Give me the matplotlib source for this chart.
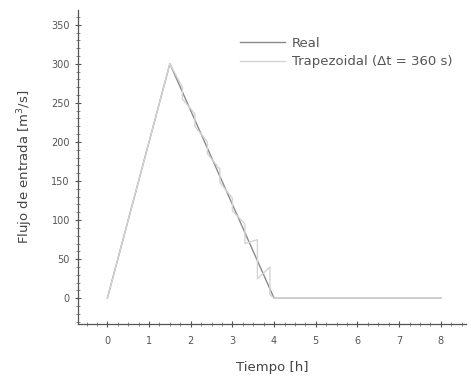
import matplotlib
matplotlib.use("Agg")
import matplotlib.pyplot as plt
from matplotlib.ticker import MultipleLocator

# Data
real_t = [0, 1.5, 4.0, 8.0]
real_q = [0, 300, 0, 0]

trap_t = [0, 1.5, 1.8, 1.8, 2.1, 2.1, 2.4, 2.4, 2.7, 2.7, 3.0, 3.0, 3.3, 3.3, 3.6, 3.6, 3.9, 3.9, 4.0, 8.0]
trap_q = [0, 300, 270, 255, 236, 220, 200, 185, 165, 148, 128, 112, 95, 70, 75, 25, 40, 5, 0, 0]

xticks = [0, 1, 2, 3, 4, 5, 6, 7, 8]
yticks = [0, 50, 100, 150, 200, 250, 300, 350]

fig = plt.figure(figsize=(4.71, 3.79), dpi=100)
ax = fig.add_axes([0.166, 0.145, 0.823, 0.829])

ax.plot(real_t, real_q, color="#8a8a8a", lw=1.0, label="Real")
ax.plot(trap_t, trap_q, color="#d4d4d4", lw=1.0, label="Trapezoidal (\u0394t = 360 s)")

ax.set_xlim(-0.7, 8.6)
ax.set_ylim(-33, 369)
ax.set_xticks(xticks)
ax.set_yticks(yticks)
ax.xaxis.set_minor_locator(MultipleLocator(0.25))
ax.yaxis.set_minor_locator(MultipleLocator(10))

for s in ["top", "right"]:
    ax.spines[s].set_visible(False)
for s in ["left", "bottom"]:
    ax.spines[s].set_color("#555555")
    ax.spines[s].set_linewidth(0.9)

ax.tick_params(which="major", direction="inout", length=5, width=0.8, colors="#555555", labelsize=7, labelcolor="#555555")
ax.tick_params(axis="x", which="major", pad=6)
ax.tick_params(which="minor", direction="inout", length=3, width=0.6, colors="#777777")

ax.set_xlabel("Tiempo [h]", fontsize=9.5, color="#444444", labelpad=11)
ax.set_ylabel("Flujo de entrada [m$^3$/s]", fontsize=9.5, color="#444444", labelpad=12)

leg = ax.legend(loc="upper left", bbox_to_anchor=(0.418, 0.915), frameon=False, fontsize=9.5,
                borderpad=0, borderaxespad=0,
                handlelength=3.4, handletextpad=0.5, labelspacing=0.45)
for t in leg.get_texts():
    t.set_color("#555555")

fig.savefig("out.png", dpi=100)
